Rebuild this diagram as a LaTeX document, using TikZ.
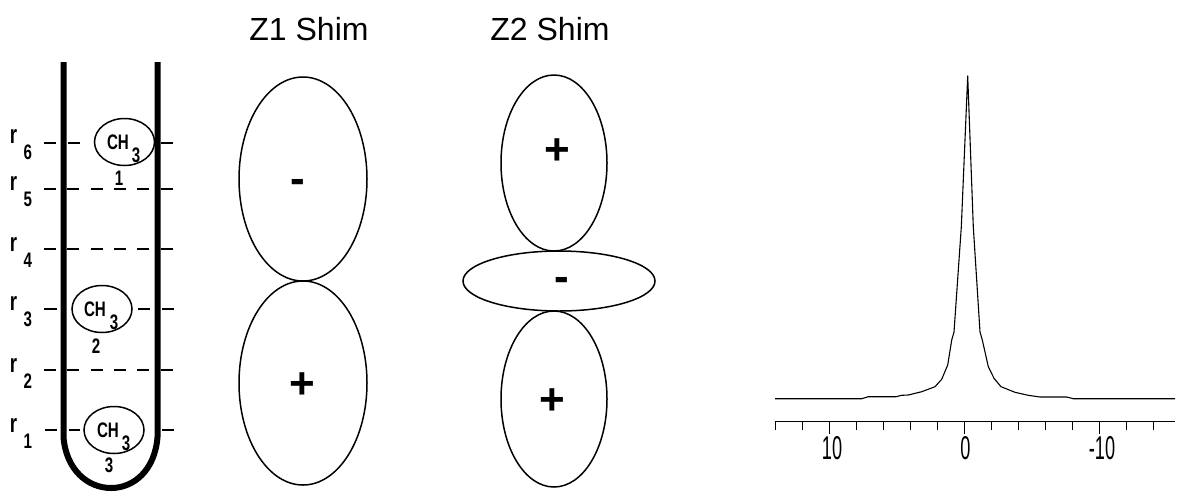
\documentclass[tikz,border=0pt]{standalone}
\usepackage{fontspec}
\setmainfont{Liberation Sans}
\usetikzlibrary{shapes.geometric}
\newcommand{\rsub}[1]{{\fontsize{26}{26}\selectfont r}\raisebox{-16pt}{\hspace{9pt}#1}}
\tikzset{
  lobe/.style={shape=ellipse,draw=black,line width=1.5pt,inner sep=0pt},
  molring/.style={shape=ellipse,draw=black,line width=1.5pt,inner sep=0pt,minimum width=60pt,minimum height=47pt},
  title/.style={font=\fontsize{32}{36}\selectfont,inner sep=0pt},
  sign/.style={font=\fontsize{44}{48}\selectfont\bfseries,inner sep=0pt},
  scan/.style={font=\fontsize{21}{24}\selectfont\bfseries,inner sep=0pt,xscale=0.72,transform shape},
  scale10/.style={font=\fontsize{33}{36}\selectfont,inner sep=0pt,xscale=0.55,transform shape},
  level/.style={line width=1.9pt,dash pattern=on 12pt off 11.3pt},
  gap/.style={line width=1.9pt},
}
\begin{document}
\begin{tikzpicture}[x=1pt,y=-1pt]
  \useasboundingbox (0,0) rectangle (1183,491);

  \node[title] (T1) at (309,29) {Z1 Shim};
  \node[title] (T2) at (550,29) {Z2 Shim};

  % sample tube, level lines first
  \draw[level] (44,189) -- (174,189);
  \draw[level] (44,249) -- (174,249);
  \draw[level] (44,370) -- (174,370);

  \draw[gap] (44,143) -- (56,143);
  \draw[gap] (68,143) -- (80,143);
  \draw[gap] (161,143) -- (173,143);
  \draw[gap] (44,309) -- (57,309);
  \draw[gap] (138,309) -- (150,309);
  \draw[gap] (162,309) -- (174,309);
  \draw[gap] (45,430) -- (57,430);
  \draw[gap] (69,430) -- (80,430);
  \draw[gap] (162,430) -- (174,430);

  \draw[line width=6pt] (63.5,62) -- (63.5,437) .. controls (66,470) and (88,488) .. (111,488)
    .. controls (134,488) and (155,470) .. (157.5,437) -- (157.5,62);

  \node[molring] (M1) at (124.5,142) {};
  \node[molring] (M2) at (102,309) {};
  \node[molring] (M3) at (114,430) {};

  \node[scan] (C1) at (118,142) {CH};
  \node[scan] (C2) at (95,309) {CH};
  \node[scan] (C3) at (108,430) {CH};
  \node[scan] (S1) at (136,155) {3};
  \node[scan] (S2) at (114,322) {3};
  \node[scan] (S3) at (126,443) {3};
  \node[scan] (N1) at (119,178) {1};
  \node[scan] (N2) at (96,346) {2};
  \node[scan] (N3) at (109,465) {3};

  \node[scan] (R6) at (21,145) {\rsub{6}};
  \node[scan] (R5) at (21,192) {\rsub{5}};
  \node[scan] (R4) at (21,252) {\rsub{4}};
  \node[scan] (R3) at (21,312) {\rsub{3}};
  \node[scan] (R2) at (21,373) {\rsub{2}};
  \node[scan] (R1) at (21,433) {\rsub{1}};

  % shim lobes
  \node[lobe,minimum width=128pt,minimum height=204pt] (Z1T) at (303,179) {};
  \node[lobe,minimum width=128pt,minimum height=204pt] (Z1B) at (303,383) {};
  \node[lobe,minimum width=106pt,minimum height=176pt] (Z2T) at (554,163) {};
  \node[lobe,minimum width=192pt,minimum height=60pt] (Z2M) at (559,281) {};
  \node[lobe,minimum width=106pt,minimum height=176pt] (Z2B) at (554,399) {};

  \node[sign] (P1) at (298,186) {-};
  \node[sign] (P2) at (302,385.5) {+};
  \node[sign] (P3) at (557,152) {+};
  \node[sign] (P4) at (562,284.5) {-};
  \node[sign] (P5) at (552,402) {+};

  % spectrum
  \draw[line width=1.1pt,line join=round] plot coordinates {(775,398.7) (861.7,398.7) (868.3,396.7) (896,396.7)
    (901.7,395.3) (908.3,395) (921.7,391.7) (935,386.7) (941.7,379.3) (947.7,365) (951.7,340) (954,332)
    (961.3,227) (967.7,76) (973.3,227) (980,332) (982.3,340) (988.3,366.7) (994,378.3) (1001,386.7)
    (1015,392.3) (1028.3,395.3) (1040,397) (1066.7,397) (1073.3,398.7) (1175,398.7)};

  \draw[line width=1.1pt] (775,421.7) -- (1175,421.7);
  \foreach \i/\len in {775.3/430,802.3/430,829.3/434,856.3/430,883.3/430,910.3/430,937.3/430,964.3/434,
      991.3/430,1018.3/430,1045.3/430,1072.3/430,1099.3/434,1126.3/430,1153.3/430}
    \draw[line width=0.8pt] (\i,421.7) -- (\i,\len);

  \node[scale10] (X1) at (832,448) {10};
  \node[scale10] (X2) at (965.5,448) {0};
  \node[scale10] (X3) at (1102,448) {-10};
\end{tikzpicture}
\end{document}
